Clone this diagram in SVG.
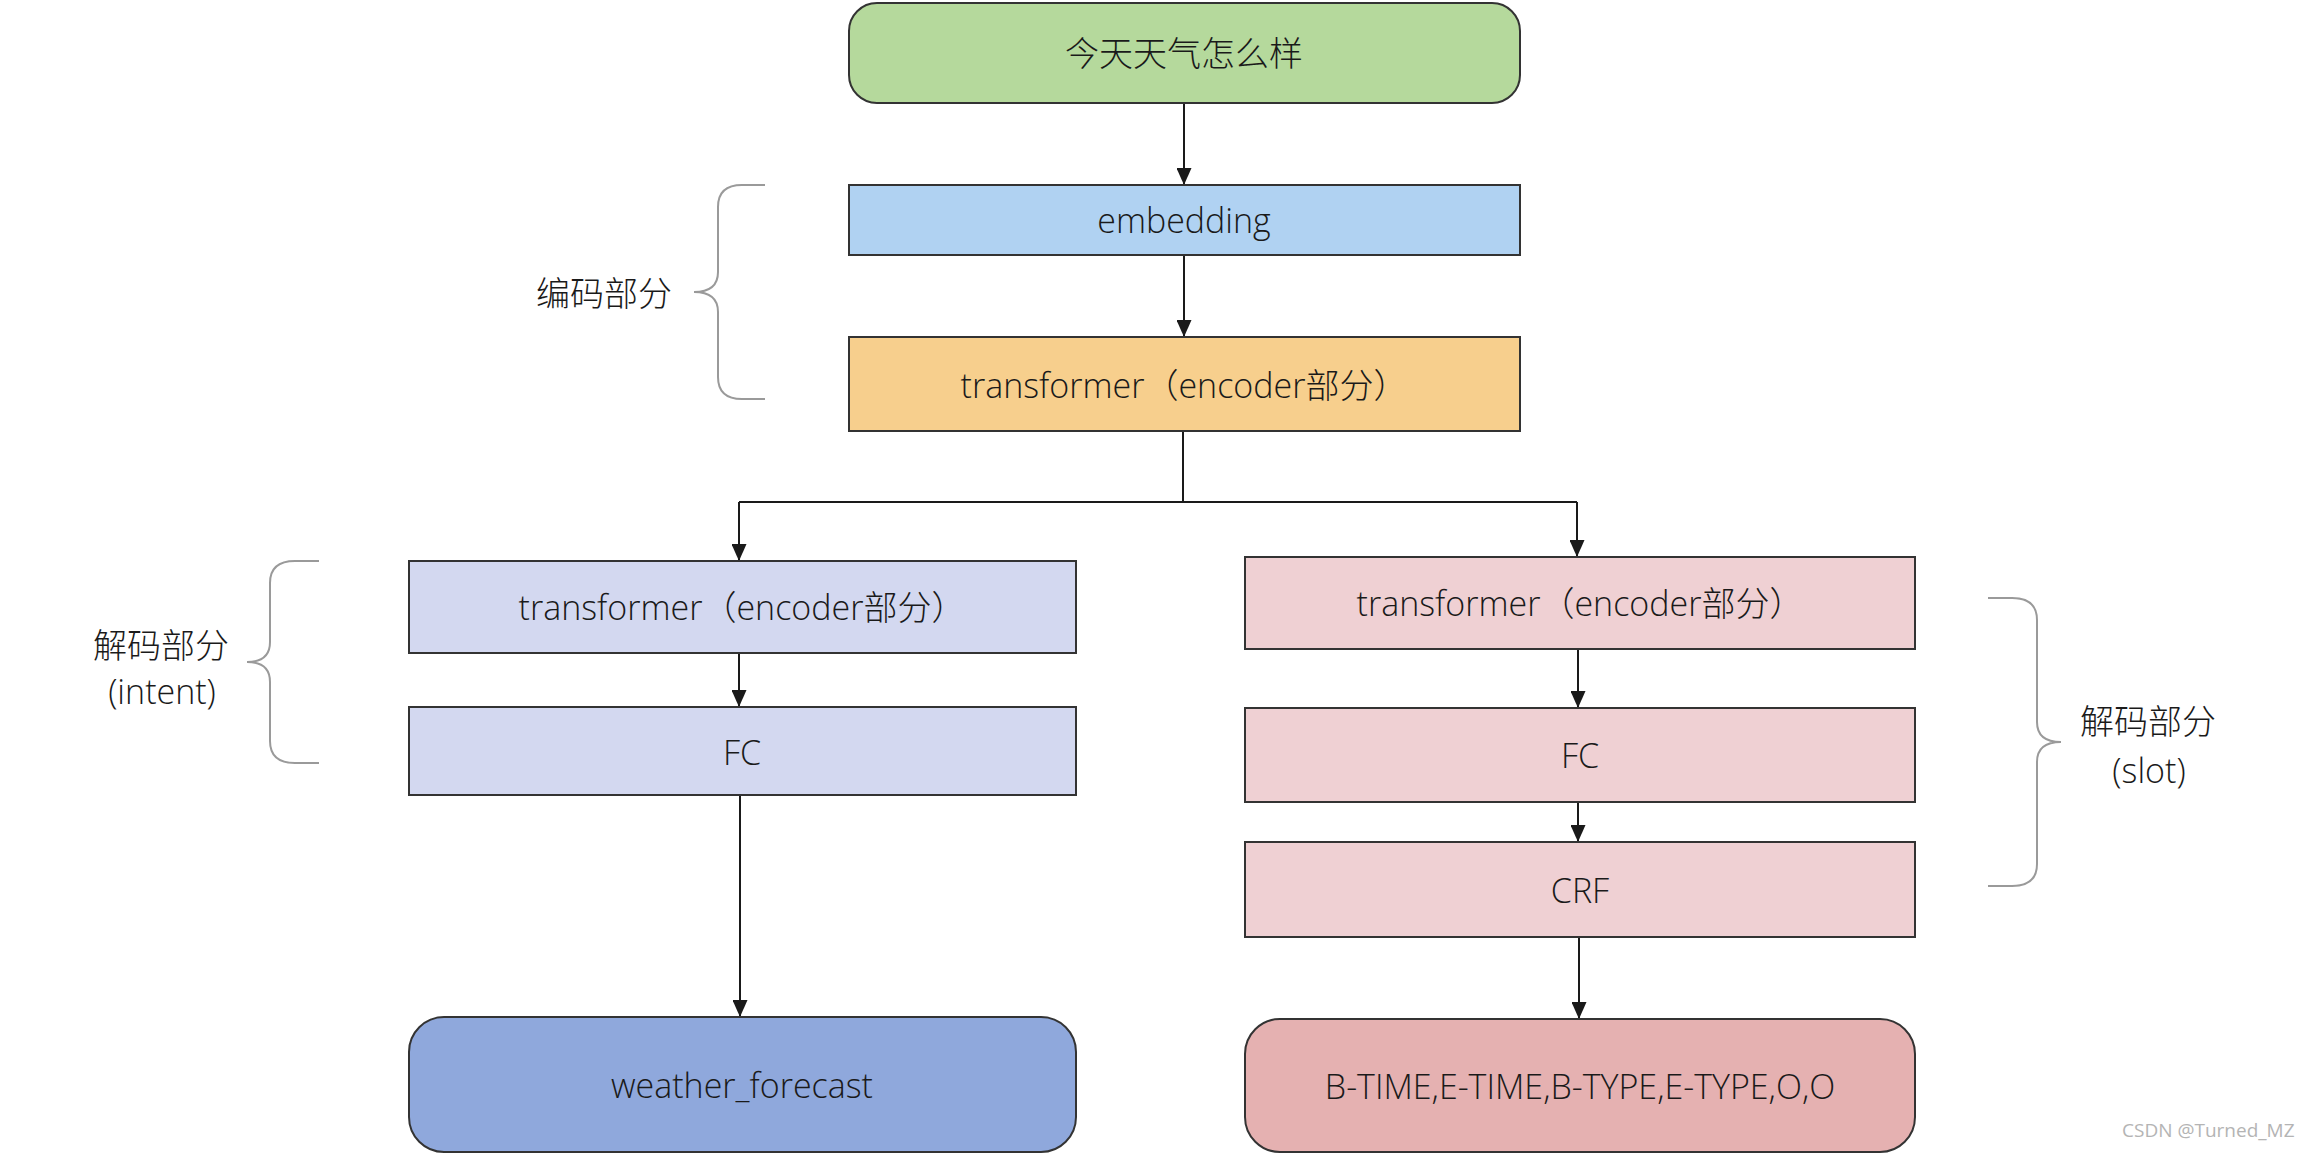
<svg xmlns="http://www.w3.org/2000/svg" width="2308" height="1156" viewBox="0 0 2308 1156">
<defs>
<style>
.box{stroke:#333333;stroke-width:2}
.t{font-family:"Open Sans","Noto Sans CJK SC",sans-serif;font-size:34px;font-weight:300;fill:#1a1a1a;text-anchor:middle;dominant-baseline:central}
.lbl{font-family:"Open Sans","Noto Sans CJK SC",sans-serif;font-size:34px;font-weight:300;fill:#1a1a1a;text-anchor:middle;dominant-baseline:central}
.con{fill:none;stroke:#1a1a1a;stroke-width:2}
.brace{fill:none;stroke:#9a9a9a;stroke-width:2}
.wm{font-family:"Open Sans","Noto Sans",sans-serif;font-size:19px;fill:#b4b4b4}
</style>
<marker id="arr" markerUnits="userSpaceOnUse" markerWidth="17" markerHeight="15" refX="17" refY="7.5" orient="auto" viewBox="0 0 17 15">
<path d="M0,0 L17,7.5 L0,15 z" fill="#1a1a1a"/>
</marker>
</defs>
<rect width="2308" height="1156" fill="#ffffff"/>

<g id="connectors">
<path class="con" d="M1184,104 V185" marker-end="url(#arr)"/>
<path class="con" d="M1184,255 V337" marker-end="url(#arr)"/>
<path class="con" d="M1183,431 V502"/>
<path class="con" d="M739,502 H1577"/>
<path class="con" d="M739,502 V561" marker-end="url(#arr)"/>
<path class="con" d="M1577,502 V557" marker-end="url(#arr)"/>
<path class="con" d="M739,653 V707" marker-end="url(#arr)"/>
<path class="con" d="M740,795 V1017" marker-end="url(#arr)"/>
<path class="con" d="M1578,649 V708" marker-end="url(#arr)"/>
<path class="con" d="M1578,802 V842" marker-end="url(#arr)"/>
<path class="con" d="M1579,937 V1019" marker-end="url(#arr)"/>
</g>

<g id="n_top">
<rect class="box" x="849" y="3" width="671" height="100" rx="28" fill="#b5d99c"/>
<text class="t" x="1184" y="53">今天天气怎么样</text>
</g>
<g id="n_embedding">
<rect class="box" x="849" y="185" width="671" height="70" fill="#b0d2f2"/>
<text class="t" x="1184" y="220">embedding</text>
</g>
<g id="n_encoder">
<rect class="box" x="849" y="337" width="671" height="94" fill="#f7cf8d"/>
<text class="t" x="1184" y="385">transformer（encoder部分）</text>
</g>
<g id="n_intent_transformer">
<rect class="box" x="409" y="561" width="667" height="92" fill="#d3d8f0"/>
<text class="t" x="742" y="607">transformer（encoder部分）</text>
</g>
<g id="n_intent_fc">
<rect class="box" x="409" y="707" width="667" height="88" fill="#d3d8f0"/>
<text class="t" x="742" y="752">FC</text>
</g>
<g id="n_weather">
<rect class="box" x="409" y="1017" width="667" height="135" rx="35" fill="#8fa8dc"/>
<text class="t" x="742" y="1085">weather_forecast</text>
</g>
<g id="n_slot_transformer">
<rect class="box" x="1245" y="557" width="670" height="92" fill="#efd0d3"/>
<text class="t" x="1580" y="603">transformer（encoder部分）</text>
</g>
<g id="n_slot_fc">
<rect class="box" x="1245" y="708" width="670" height="94" fill="#efd0d3"/>
<text class="t" x="1580" y="755">FC</text>
</g>
<g id="n_crf">
<rect class="box" x="1245" y="842" width="670" height="95" fill="#efd0d3"/>
<text class="t" x="1580" y="890">CRF</text>
</g>
<g id="n_slot_out">
<rect class="box" x="1245" y="1019" width="670" height="133" rx="35" fill="#e5b1b1"/>
<text class="t" x="1580" y="1086">B-TIME,E-TIME,B-TYPE,E-TYPE,O,O</text>
</g>

<g id="brace_encode">
<path class="brace" d="M765,185 H742 Q718,185 718,207 V272 Q718,292 694,292 Q718,292 718,312 V377 Q718,399 742,399 H765"/>
<text class="lbl" x="604" y="293">编码部分</text>
</g>
<g id="brace_intent">
<path class="brace" d="M319,561 H295 Q270,561 270,583 V642 Q270,662 247,662 Q270,662 270,682 V741 Q270,763 295,763 H319"/>
<text class="lbl" x="161" y="645">解码部分</text>
<text class="lbl" x="162" y="691">(intent)</text>
</g>
<g id="brace_slot">
<path class="brace" d="M1988,598 H2012 Q2037,598 2037,620 V722 Q2037,742 2061,742 Q2037,742 2037,762 V864 Q2037,886 2012,886 H1988"/>
<text class="lbl" x="2148" y="721">解码部分</text>
<text class="lbl" x="2149" y="770">(slot)</text>
</g>

<text class="wm" x="2122" y="1137">CSDN @Turned_MZ</text>
</svg>
